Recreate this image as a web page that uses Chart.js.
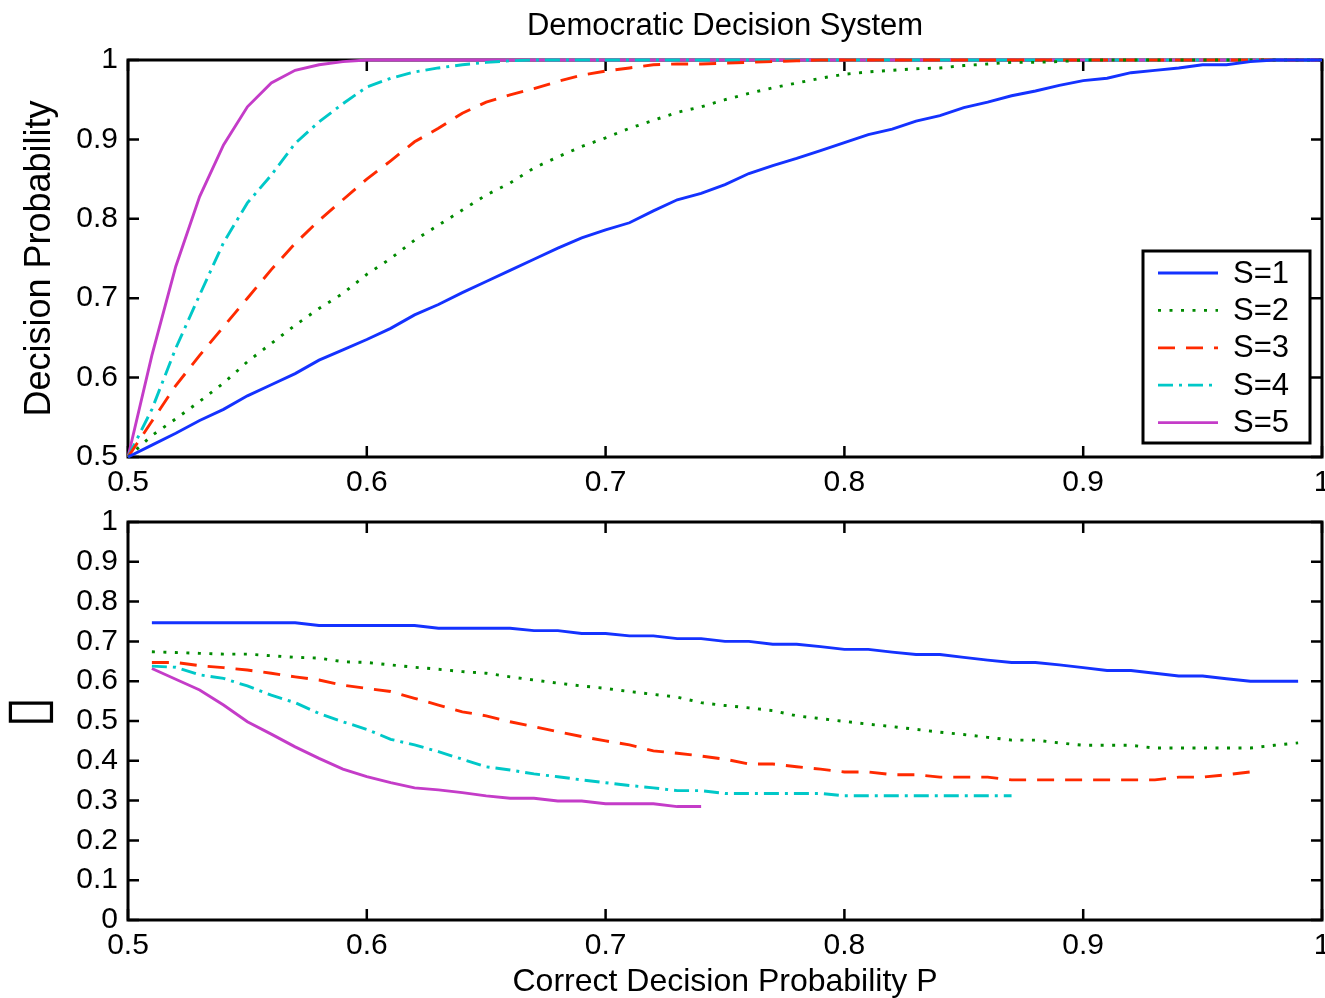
<!DOCTYPE html>
<html><head><meta charset="utf-8">
<script src="https://cdn.jsdelivr.net/npm/chart.js@4.4.1/dist/chart.umd.min.js"></script>
<style>
html,body{margin:0;padding:0;background:#fff;}
#wrap{position:relative;width:1325px;height:998px;overflow:hidden;background:#fff;}
canvas{position:absolute;left:0;}
#c1{top:0}
#c2{top:505px}
</style></head><body>
<div id="wrap"><canvas id="c1" width="1325" height="505"></canvas><canvas id="c2" width="1325" height="493"></canvas></div>
<script>
// ---------- data ----------
const titleText = 'Democratic Decision System';
const yTitleTop = 'Decision Probability';
const yTitleBottom = '\u00A0\u25AF';
const xTitle = 'Correct Decision Probability P';
const seriesLabels = ['S=1','S=2','S=3','S=4','S=5'];

const xTicks = [0.5,0.6,0.7,0.8,0.9,1];
const yTicksTop = [0.5,0.6,0.7,0.8,0.9,1];
const yTicksBottom = [0,0.1,0.2,0.3,0.4,0.5,0.6,0.7,0.8,0.9,1];

const pTop = [0.50,0.51,0.52,0.53,0.54,0.55,0.56,0.57,0.58,0.59,0.60,0.61,0.62,0.63,0.64,0.65,0.66,0.67,0.68,0.69,0.70,0.71,0.72,0.73,0.74,0.75,0.76,0.77,0.78,0.79,0.80,0.81,0.82,0.83,0.84,0.85,0.86,0.87,0.88,0.89,0.90,0.91,0.92,0.93,0.94,0.95,0.96,0.97,0.98,0.99,1.00];

const s1Top = [0.500,0.515,0.530,0.546,0.560,0.577,0.591,0.605,0.622,0.635,0.648,0.662,0.679,0.692,0.707,0.721,0.735,0.749,0.763,0.776,0.786,0.795,0.810,0.824,0.832,0.843,0.857,0.867,0.876,0.886,0.896,0.906,0.913,0.923,0.930,0.940,0.947,0.955,0.961,0.968,0.974,0.977,0.984,0.987,0.990,0.994,0.994,0.998,1.000,1.000,1.000];
const s2Top = [0.500,0.527,0.548,0.570,0.593,0.620,0.643,0.666,0.687,0.706,0.730,0.750,0.773,0.792,0.811,0.830,0.845,0.864,0.878,0.891,0.902,0.914,0.924,0.934,0.941,0.950,0.958,0.965,0.971,0.977,0.982,0.985,0.987,0.989,0.990,0.993,0.995,0.997,0.997,0.998,1.000,1.000,1.000,1.000,1.000,1.000,1.000,1.000,1.000,1.000,1.000];
const s3Top = [0.500,0.545,0.590,0.628,0.664,0.700,0.736,0.769,0.798,0.824,0.850,0.873,0.897,0.914,0.933,0.947,0.956,0.964,0.973,0.981,0.986,0.990,0.994,0.995,0.995,0.996,0.997,0.998,0.999,1.000,1.000,1.000,1.000,1.000,1.000,1.000,1.000,1.000,1.000,1.000,1.000,1.000,1.000,1.000,1.000,1.000,1.000,1.000,1.000,1.000,1.000];
const s4Top = [0.500,0.560,0.637,0.704,0.770,0.820,0.855,0.895,0.922,0.945,0.966,0.977,0.985,0.990,0.994,0.997,0.999,1.000,1.000,1.000,1.000,1.000,1.000,1.000,1.000,1.000,1.000,1.000,1.000,1.000,1.000,1.000,1.000,1.000,1.000,1.000,1.000,1.000,1.000,1.000,1.000,1.000,1.000,1.000,1.000,1.000,1.000,1.000,1.000,1.000,1.000];
const s5Top = [0.500,0.628,0.740,0.828,0.893,0.941,0.971,0.987,0.994,0.998,1.000,1.000,1.000,1.000,1.000,1.000,1.000,1.000,1.000,1.000,1.000,1.000,1.000,1.000,1.000,1.000,1.000,1.000,1.000,1.000,1.000,1.000,1.000,1.000,1.000,1.000,1.000,1.000,1.000,1.000,1.000,1.000,1.000,1.000,1.000,1.000,1.000,1.000,1.000,1.000,1.000];

const pBottom = [0.51,0.52,0.53,0.54,0.55,0.56,0.57,0.58,0.59,0.60,0.61,0.62,0.63,0.64,0.65,0.66,0.67,0.68,0.69,0.70,0.71,0.72,0.73,0.74,0.75,0.76,0.77,0.78,0.79,0.80,0.81,0.82,0.83,0.84,0.85,0.86,0.87,0.88,0.89,0.90,0.91,0.92,0.93,0.94,0.95,0.96,0.97,0.98,0.99];

const s1Bottom = [0.747,0.747,0.747,0.747,0.747,0.747,0.747,0.740,0.740,0.740,0.740,0.740,0.733,0.733,0.733,0.733,0.727,0.727,0.720,0.720,0.714,0.714,0.707,0.707,0.700,0.700,0.693,0.693,0.687,0.680,0.680,0.673,0.667,0.667,0.660,0.653,0.647,0.647,0.641,0.634,0.627,0.627,0.620,0.613,0.613,0.606,0.600,0.600,0.600];
const s2Bottom = [0.674,0.672,0.670,0.668,0.668,0.664,0.660,0.658,0.649,0.647,0.641,0.635,0.630,0.624,0.620,0.611,0.603,0.595,0.588,0.582,0.574,0.567,0.560,0.546,0.539,0.533,0.526,0.513,0.506,0.499,0.492,0.486,0.479,0.472,0.466,0.459,0.452,0.452,0.445,0.439,0.439,0.439,0.432,0.432,0.432,0.432,0.432,0.439,0.445];
const s3Bottom = [0.647,0.647,0.639,0.634,0.628,0.620,0.611,0.603,0.590,0.582,0.574,0.557,0.540,0.523,0.513,0.498,0.486,0.473,0.461,0.450,0.440,0.425,0.419,0.412,0.404,0.392,0.392,0.385,0.379,0.372,0.372,0.365,0.365,0.359,0.359,0.359,0.352,0.352,0.352,0.352,0.352,0.352,0.352,0.359,0.359,0.365,0.372];
const s4Bottom = [0.638,0.635,0.616,0.607,0.588,0.565,0.546,0.519,0.498,0.479,0.454,0.440,0.423,0.404,0.385,0.377,0.367,0.360,0.352,0.345,0.338,0.332,0.325,0.325,0.318,0.318,0.318,0.318,0.318,0.312,0.312,0.312,0.312,0.312,0.312,0.312,0.312];
const s5Bottom = [0.632,0.605,0.578,0.540,0.498,0.467,0.435,0.406,0.379,0.360,0.345,0.332,0.327,0.320,0.312,0.306,0.306,0.299,0.299,0.292,0.292,0.292,0.285,0.285];

// ---------- styles ----------
const colors = ['#1432ff','#008a00','#ff2a00','#00c8c8','#c43cc8'];
const dashes = [[], [3,8.5], [17,11], [15,6,3,6], []];
const FONT = "'Liberation Sans', Arial, Helvetica, sans-serif";

function mkData(xs, ys){ return ys.map((v,i)=>({x:xs[i], y:v})); }
function mkSets(xs, arrs){
  return arrs.map((a,i)=>({
    label: seriesLabels[i], data: mkData(xs,a),
    borderColor: colors[i], backgroundColor: colors[i],
    borderDash: dashes[i], borderWidth: 2.9, pointRadius: 0,
    tension: 0, fill: false, clip: 5, borderCapStyle:'butt', borderJoinStyle:'miter'
  }));
}

const framePlugin = {
  id: 'frameTicks',
  beforeDatasetsDraw(chart){
    const {ctx, chartArea:{left,right,top,bottom}, scales:{x,y}} = chart;
    ctx.save();
    ctx.strokeStyle = '#000';
    ctx.lineWidth = 2.5;
    ctx.beginPath();
    x.ticks.forEach(t=>{
      const px = x.getPixelForValue(t.value);
      ctx.moveTo(px,bottom); ctx.lineTo(px,bottom-11);
      ctx.moveTo(px,top); ctx.lineTo(px,top+11);
    });
    y.ticks.forEach(t=>{
      const py = y.getPixelForValue(t.value);
      ctx.moveTo(left,py); ctx.lineTo(left+11,py);
      ctx.moveTo(right,py); ctx.lineTo(right-11,py);
    });
    ctx.stroke();
    ctx.lineWidth = 3;
    ctx.strokeRect(left,top,right-left,bottom-top);
    ctx.restore();
  }
};

const legendPlugin = {
  id: 'boxLegend',
  afterDatasetsDraw(chart){
    const {ctx, chartArea:{right,bottom}} = chart;
    const bw = 167, bh = 192;
    const bx = right - 12 - bw, by = bottom - 14 - bh;
    ctx.save();
    ctx.fillStyle = '#fff';
    ctx.fillRect(bx,by,bw,bh);
    ctx.strokeStyle = '#000'; ctx.lineWidth = 3;
    ctx.strokeRect(bx,by,bw,bh);
    ctx.font = '31px ' + FONT;
    ctx.textBaseline = 'middle';
    ctx.textAlign = 'left';
    chart.data.datasets.forEach((ds,i)=>{
      const cy = by + 22 + i*37.4;
      ctx.strokeStyle = ds.borderColor; ctx.lineWidth = 2.8;
      ctx.setLineDash(ds.borderDash || []);
      ctx.beginPath(); ctx.moveTo(bx+15,cy); ctx.lineTo(bx+75,cy); ctx.stroke();
      ctx.setLineDash([]);
      ctx.fillStyle = '#000';
      ctx.fillText(ds.label, bx+90, cy+1);
    });
    ctx.restore();
  }
};

function fixedTicks(arr){ return function(scale){ scale.ticks = arr.map(v=>({value:v})); }; }
function fmt(v){ return String(Math.round(v*10)/10); }

function makeOptions(cfg){
  return {
    responsive:false, animation:false, devicePixelRatio:1,
    layout:{padding:{left:0,right:3,top:cfg.padTop,bottom:0}},
    plugins:{
      legend:{display:false}, tooltip:{enabled:false},
      title: cfg.title ? {display:true, text:cfg.title, fullSize:false, color:'#000',
        font:{family:FONT,size:31,weight:'normal',lineHeight:1.2}, padding:{top:8,bottom:14.8}} : {display:false}
    },
    scales:{
      x:{type:'linear', min:0.5, max:1,
        grid:{display:false, drawTicks:false}, border:{display:false},
        afterBuildTicks: fixedTicks(xTicks),
        ticks:{autoSkip:false, maxRotation:0, padding:8, color:'#000',
          font:{family:FONT,size:30}, callback:(v)=>fmt(v)},
        title: cfg.xTitle ? {display:true, text:cfg.xTitle, color:'#000',
          font:{family:FONT,size:32,lineHeight:1}, padding:{top:0,bottom:0}} : {display:false},
        afterFit(s){ s.height = cfg.xHeight; s.paddingLeft=0; s.paddingRight=0; }
      },
      y:{type:'linear', min:cfg.ymin, max:1,
        grid:{display:false, drawTicks:false}, border:{display:false},
        afterBuildTicks: fixedTicks(cfg.yTicks),
        ticks:{autoSkip:false, padding:10, color:'#000',
          font:{family:FONT,size:30}, callback:(v)=>fmt(v)},
        title:{display:true, text:cfg.yTitle, color:'#000',
          font:{family:cfg.yFont,size:cfg.ySize,lineHeight:cfg.yLH}, padding:{top:cfg.yPad,bottom:0}},
        afterFit(s){ s.width = 128; s.paddingTop=0; s.paddingBottom=0; }
      }
    }
  };
}

new Chart(document.getElementById('c1'), {
  type:'line',
  data:{datasets: mkSets(pTop,[s1Top,s2Top,s3Top,s4Top,s5Top])},
  options: makeOptions({padTop:0, title:titleText, xHeight:48, ymin:0.5, yTicks:yTicksTop,
    yTitle:yTitleTop, yFont:FONT, ySize:36, yLH:1.2, yPad:18}),
  plugins:[framePlugin, legendPlugin]
});

new Chart(document.getElementById('c2'), {
  type:'line',
  data:{datasets: mkSets(pBottom,[s1Bottom,s2Bottom,s3Bottom,s4Bottom,s5Bottom])},
  options: makeOptions({padTop:17, title:null, xTitle:xTitle, xHeight:78, ymin:0, yTicks:yTicksBottom,
    yTitle:yTitleBottom, yFont:"'DejaVu Sans', sans-serif", ySize:58, yLH:1, yPad:2}),
  plugins:[framePlugin]
});
</script>
</body></html>
